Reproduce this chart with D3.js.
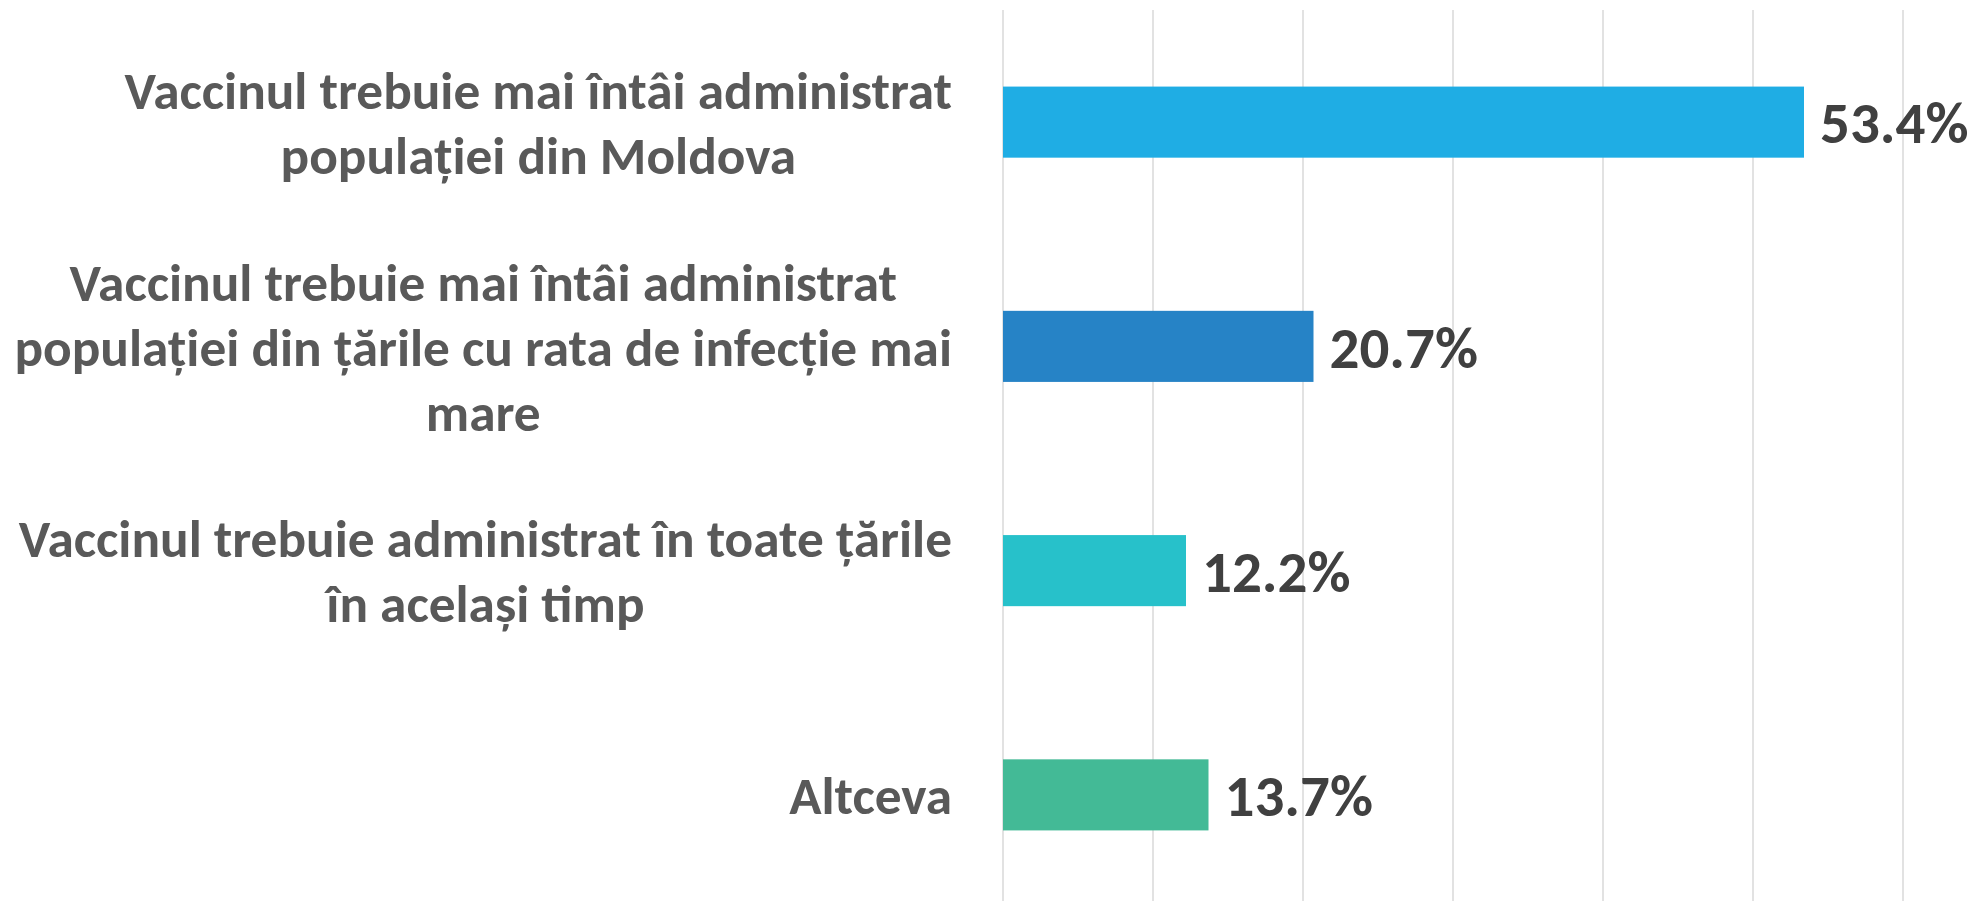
<!DOCTYPE html>
<html>
<head>
<meta charset="utf-8">
<script src="https://cdn.jsdelivr.net/npm/d3@7"></script>
<style>
  body { margin: 0; background: #fff; }
  svg { display: block; }
</style>
</head>
<body>
<svg width="1983" height="901"></svg>
<script>
// DATA
const categories = [
    ["Vaccinul trebuie mai întâi administrat", "populației din Moldova"],
    ["Vaccinul trebuie mai întâi administrat", "populației din țările cu rata de infecție mai", "mare"],
    ["Vaccinul trebuie administrat în toate țările", "în același timp"],
    ["Altceva"]
];
const values = [53.4, 20.7, 12.2, 13.7];
const colors = ["#1FADE4", "#2683C6", "#27C1CA", "#43BA96"];
const gridTicks = [0, 10, 20, 30, 40, 50, 60];

const svg = d3.select("svg");
const font = "Carlito, Calibri, Lato, sans-serif";

const plotLeft = 1003, plotRight = 1903;
const plotTop = 10, plotBottom = 907;

// SCALE
const xScale = d3.scaleLinear().domain([0, 60]).range([plotLeft, plotRight]);
const yScale = d3.scaleBand()
    .domain(d3.range(values.length))
    .range([plotTop, plotBottom])
    .paddingInner(0.683)
    .paddingOuter(0.3415);

// GRID
svg.append("g")
    .selectAll("line")
    .data(gridTicks)
    .join("line")
    .attr("x1", d => xScale(d))
    .attr("x2", d => xScale(d))
    .attr("y1", plotTop)
    .attr("y2", 901)
    .attr("stroke", "#D9D9D9")
    .attr("stroke-width", 1.5);

// BARS
svg.append("g")
    .selectAll("rect")
    .data(values)
    .join("rect")
    .attr("x", xScale(0))
    .attr("y", (d, i) => yScale(i))
    .attr("width", d => xScale(d) - xScale(0))
    .attr("height", yScale.bandwidth())
    .attr("fill", (d, i) => colors[i]);

// VALUE LABELS
svg.append("g")
    .selectAll("text")
    .data(values)
    .join("text")
    .attr("x", d => xScale(d) + 16)
    .attr("y", (d, i) => yScale(i) + yScale.bandwidth() / 2)
    .attr("dy", "0.36em")
    .attr("font-family", font)
    .attr("font-weight", "bold")
    .attr("font-size", "59px")
    .attr("fill", "#404040")
    .text(d => d.toFixed(1) + "%");

// CATEGORY LABELS (lines centred in a block right-aligned to the axis)
const labelRight = 952;
const lineHeight = 65;
const labelGroup = svg.append("g");

categories.forEach((lines, i) => {
    const cy = yScale(i) + yScale.bandwidth() / 2;
    const t = labelGroup.append("text")
        .attr("font-family", font)
        .attr("font-weight", "bold")
        .attr("font-size", "53.3px")
        .attr("fill", "#595959")
        .attr("text-anchor", "middle");
    const spans = lines.map((line, j) =>
        t.append("tspan")
            .attr("y", cy + (j - (lines.length - 1) / 2) * lineHeight)
            .attr("dy", "0.36em")
            .text(line)
    );
    const maxW = d3.max(spans, s => s.node().getComputedTextLength());
    spans.forEach(s => s.attr("x", labelRight - maxW / 2));
});
</script>
</body>
</html>
